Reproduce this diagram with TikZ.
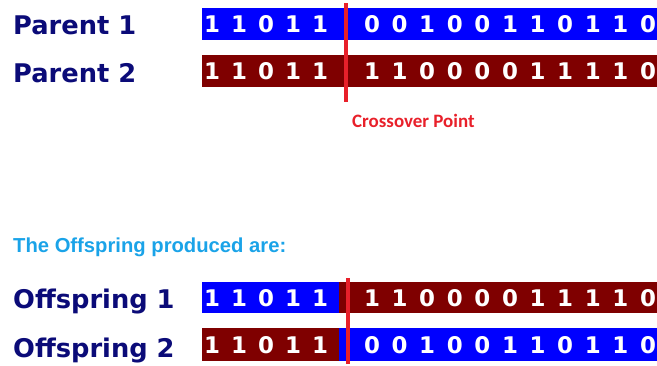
\documentclass[tikz,border=0pt]{standalone}
\usepackage{fontspec}
\setmainfont{DejaVu Sans}
\newfontfamily\arialfont{Liberation Sans}
\newfontfamily\calibrifont{Carlito}
\definecolor{chromblue}{HTML}{0000FF}
\definecolor{chromred}{HTML}{7F0000}
\definecolor{labelnavy}{HTML}{0B0B78}
\definecolor{cutred}{HTML}{E8202A}
\definecolor{headblue}{HTML}{1AA3E8}
\tikzset{
  gene/.style={rectangle, inner sep=0pt, outer sep=0pt, anchor=north west},
  bit/.style={anchor=base, inner sep=0pt, text=white, font=\fontsize{23}{23}\selectfont\bfseries},
  rowlabel/.style={anchor=base west, inner sep=0pt, text=labelnavy, font=\fontsize{25.8}{25.8}\selectfont\bfseries},
  cutline/.style={draw=cutred, line width=4bp},
}
% draw a bit string: #1 first x, #2 baseline y, #3 list of bits, #4 spacing
\newcommand\bitrow[4]{%
  \foreach \b [count=\k from 0] in {#3} {
    \node[bit] at ({#1+\k*#4}, #2) {\b};
  }%
}
\begin{document}
\begin{tikzpicture}[x=1bp, y=-1bp]
  \useasboundingbox (0,0) rectangle (657,365);

  % parents
  \node[rowlabel] (lp1) at (13,34) {Parent 1};
  \node[rowlabel] (lp2) at (13,82) {Parent 2};
  \node[gene, fill=chromblue, minimum width=455bp, minimum height=32bp] (p1) at (202,8) {};
  \node[gene, fill=chromred,  minimum width=455bp, minimum height=32bp] (p2) at (202,55) {};
  \bitrow{212}{32.4}{1,1,0,1,1}{27}
  \bitrow{372}{32.4}{0,0,1,0,0,1,1,0,1,1,0}{27.6}
  \bitrow{212}{79.4}{1,1,0,1,1}{27}
  \bitrow{372}{79.4}{1,1,0,0,0,0,1,1,1,1,0}{27.6}

  \coordinate (ctop) at (346,3);
  \coordinate (cbot) at (346,102);
  \draw[cutline] (ctop) -- (cbot);
  \node[anchor=base west, inner sep=0pt, text=cutred, font=\calibrifont\fontsize{19}{19}\selectfont\bfseries] (cp) at (352,127) {Crossover Point};

  % offspring
  \node[anchor=base west, inner sep=0pt, text=headblue, font=\arialfont\fontsize{20.3}{20.3}\selectfont\bfseries] (head) at (13,252) {The Offspring produced are:};

  \node[rowlabel] (lo1) at (13,308) {Offspring 1};
  \node[rowlabel] (lo2) at (13,357) {Offspring 2};
  \node[gene, fill=chromblue, minimum width=137bp, minimum height=31bp] (o1a) at (202,282) {};
  \node[gene, fill=chromred,  minimum width=318bp, minimum height=31bp] (o1b) at (339,282) {};
  \node[gene, fill=chromred,  minimum width=137bp, minimum height=33bp] (o2a) at (202,328) {};
  \node[gene, fill=chromblue, minimum width=318bp, minimum height=33bp] (o2b) at (339,328) {};
  \bitrow{212}{306}{1,1,0,1,1}{27}
  \bitrow{372}{306}{1,1,0,0,0,0,1,1,1,1,0}{27.6}
  \bitrow{212}{353}{1,1,0,1,1}{27}
  \bitrow{372}{353}{0,0,1,0,0,1,1,0,1,1,0}{27.6}

  \coordinate (otop) at (348,278);
  \coordinate (obot) at (348,364);
  \draw[cutline] (otop) -- (obot);
\end{tikzpicture}
\end{document}
